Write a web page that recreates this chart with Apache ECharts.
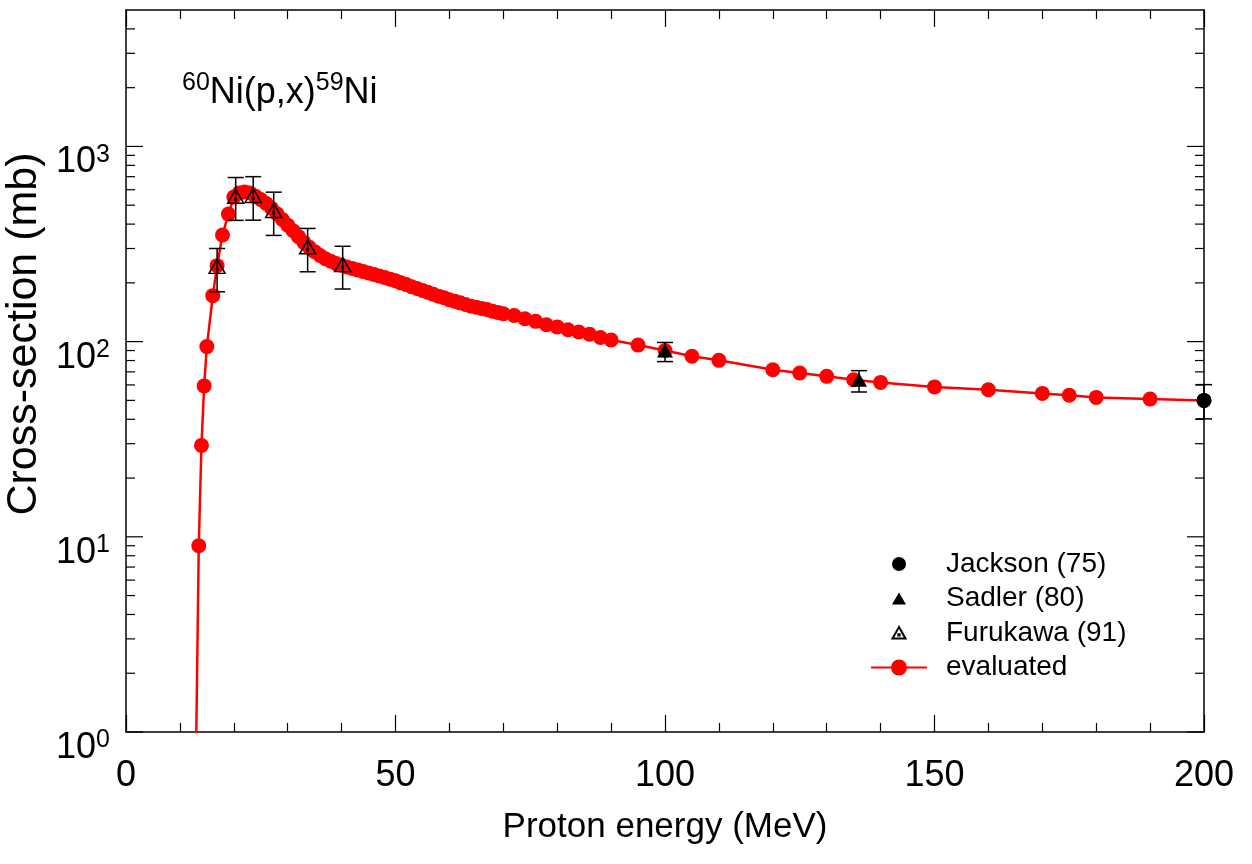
<!DOCTYPE html>
<html>
<head>
<meta charset="utf-8">
<script src="https://cdn.jsdelivr.net/npm/echarts@6/dist/echarts.min.js"></script>
<style>
html,body{margin:0;padding:0;background:#fff;}
#chart{width:1252px;height:864px;}
</style>
</head>
<body>
<div id="chart"></div>
<script>
// ---- data ----
const evalEnergy = [12.8, 13.5, 14, 14.5, 15, 16.1, 16.9, 17.9, 19, 20, 21, 22, 23, 24, 25, 26, 27, 28, 29, 30,
  31, 32, 33, 34, 35, 36, 37, 38, 39, 40, 41, 42, 43, 44, 45, 46, 47, 48, 49, 50,
  51, 52, 53, 54, 55, 56, 57, 58, 59, 60, 61, 62, 63, 64, 65, 66, 67, 68, 69, 70,
  72, 74, 76, 78, 80, 82, 84, 86, 88, 90, 95, 100, 105, 110, 120, 125, 130, 135, 140,
  150, 160, 170, 175, 180, 190, 200];
const evalXS = [0.3, 9.0, 29.4, 59.3, 94.3, 172, 245, 352, 450, 550, 578, 585, 578, 555, 535, 510, 482, 452, 422, 395,
  370, 345, 322, 304, 289, 276, 266, 258, 251, 246, 241, 237, 233, 229, 225, 221, 217, 213, 209, 205,
  200, 196, 191, 187, 183, 179, 175, 171, 168, 164, 161, 158, 155, 152, 150, 148, 146, 143, 141, 139,
  136, 131, 127, 122, 119, 115, 112, 109, 105, 102, 96, 90, 84.1, 80.2, 71.8, 69.1, 66.4, 63.8, 61.8,
  58.6, 56.7, 54.3, 53.1, 51.8, 50.8, 50];

const jacksonE = [200];
const jacksonXS = [50];
const jacksonLo = [40.2];
const jacksonHi = [60.2];

const sadlerE = [100, 136];
const sadlerXS = [90, 63.8];
const sadlerLo = [79, 55.2];
const sadlerHi = [99, 71];

const furukawaE = [16.9, 20.35, 23.6, 27.4, 33.7, 40.2];
const furukawaXS = [243, 556, 561, 470, 306, 248];
const furukawaLo = [180, 418, 419, 350, 228, 186];
const furukawaHi = [300, 693, 700, 583, 380, 308];

const xTickLabels = ['0', '50', '100', '150', '200'];
const seriesNames = ['Jackson (75)', 'Sadler (80)', 'Furukawa (91)', 'evaluated'];

// ---- build ----
const FONT = "'Liberation Sans', Arial, sans-serif";
const X_MIN = 0, X_MAX = 200, Y_MIN = 1, Y_MAX = 5000;

const zip = (a, b) => a.map((v, i) => [v, b[i]]);
const zip3 = (a, b, c) => a.map((v, i) => [v, b[i], c[i]]);

// y tick marks (log decades with minor ticks)
const yTicks = [];
for (let d = 1; d < Y_MAX; d *= 10) {
  for (let m = 1; m <= 9; m++) {
    const v = d * m;
    if (v >= Y_MAX) break;
    yTicks.push([X_MIN, v, m === 1 ? 1 : 0]);
  }
}

function errRender(params, api) {
  const x = api.value(0), lo = api.value(1), hi = api.value(2);
  const a = api.coord([x, lo]);
  const b = api.coord([x, hi]);
  const w = 8;
  const st = { stroke: '#000', lineWidth: 1.5 };
  return {
    type: 'group',
    children: [
      { type: 'line', shape: { x1: a[0], y1: a[1], x2: b[0], y2: b[1] }, style: st },
      { type: 'line', shape: { x1: a[0] - w, y1: a[1], x2: a[0] + w, y2: a[1] }, style: st },
      { type: 'line', shape: { x1: b[0] - w, y1: b[1], x2: b[0] + w, y2: b[1] }, style: st }
    ]
  };
}

function tickRender(params, api) {
  const v = api.value(1);
  const major = api.value(2);
  const pL = api.coord([X_MIN, v]);
  const pR = api.coord([X_MAX, v]);
  const len = major ? 17 : 9;
  const st = { stroke: '#000', lineWidth: 1.2 };
  return {
    type: 'group',
    children: [
      { type: 'line', shape: { x1: pL[0], y1: pL[1], x2: pL[0] + len, y2: pL[1] }, style: st },
      { type: 'line', shape: { x1: pR[0] - len, y1: pR[1], x2: pR[0], y2: pR[1] }, style: st }
    ]
  };
}

const furukawaSymbol = 'path://M0,-6 L7,6 L-7,6 Z M-0.6,1.6 L0.6,1.6 L0.6,2.8 L-0.6,2.8 Z';

const axisLineStyle = { color: '#000', width: 1.5 };

const option = {
  animation: false,
  backgroundColor: '#fff',
  textStyle: { fontFamily: FONT },
  title: {
    text: '{s|60}{m|Ni(p,x)}{s|59}{m|Ni}',
    left: 177,
    top: 66,
    textStyle: {
      fontWeight: 'normal',
      rich: {
        s: { fontSize: 25, fontFamily: FONT, fontWeight: 'normal', color: '#000', verticalAlign: 'top', lineHeight: 40 },
        m: { fontSize: 36, fontFamily: FONT, fontWeight: 'normal', color: '#000', verticalAlign: 'bottom', lineHeight: 40 }
      }
    }
  },
  grid: { left: 126, right: 48, top: 10, bottom: 132, containLabel: false, outerBoundsMode: 'none' },
  legend: {
    orient: 'vertical',
    left: 865,
    top: 545,
    itemWidth: 56,
    itemHeight: 20,
    itemGap: 6.5,
    textStyle: { fontSize: 28, fontFamily: FONT, color: '#000', padding: [0, 0, 0, 14], lineHeight: 28 },
    data: [
      { name: seriesNames[0], icon: 'path://M-10,-10 M10,10 M-7,0 A7,7 0 1 0 7,0 A7,7 0 1 0 -7,0 Z' },
      { name: seriesNames[1], icon: 'path://M-10,-10 M10,10 M0,-6 L7,6 L-7,6 Z' },
      { name: seriesNames[2], icon: 'path://M-10,-10 M10,10 M0,-6 L6.5,5.5 L-6.5,5.5 Z M-0.7,1.2 L0.7,1.2 L0.7,2.6 L-0.7,2.6 Z' },
      { name: seriesNames[3] }
    ]
  },
  xAxis: [
    {
      type: 'value', min: X_MIN, max: X_MAX, interval: 50, position: 'bottom',
      name: 'Proton energy (MeV)', nameLocation: 'middle', nameGap: 78,
      nameTextStyle: { fontSize: 35, fontFamily: FONT, color: '#000' },
      axisLine: { show: true, onZero: false, lineStyle: axisLineStyle },
      axisTick: { show: true, inside: true, length: 17, lineStyle: { color: '#000', width: 1.2 } },
      minorTick: { show: true, splitNumber: 5, length: 9, lineStyle: { color: '#000', width: 1.2 } },
      axisLabel: { fontSize: 36, color: '#000', margin: 26, fontFamily: FONT,
        formatter: (v) => xTickLabels[Math.round(v / 50)] },
      splitLine: { show: false }
    },
    {
      type: 'value', min: X_MIN, max: X_MAX, interval: 50, position: 'top',
      axisLine: { show: true, onZero: false, lineStyle: axisLineStyle },
      axisTick: { show: true, inside: true, length: 17, lineStyle: { color: '#000', width: 1.2 } },
      minorTick: { show: true, splitNumber: 5, length: 9, lineStyle: { color: '#000', width: 1.2 } },
      axisLabel: { show: false },
      splitLine: { show: false }
    }
  ],
  yAxis: [
    {
      type: 'log', logBase: 10, min: Y_MIN, max: Y_MAX, position: 'left',
      name: 'Cross-section (mb)', nameLocation: 'middle', nameGap: 72, nameRotate: 90,
      nameTextStyle: { fontSize: 43, fontFamily: FONT, color: '#000', padding: [0, 0, 0, 74] },
      axisLine: { show: true, onZero: false, lineStyle: axisLineStyle },
      axisTick: { show: false },
      minorTick: { show: false },
      splitLine: { show: false },
      axisLabel: {
        margin: 16, showMaxLabel: false,
        padding: [30, 0, 0, 0],
        formatter: function (v) {
          const e = Math.round(Math.log10(v));
          if (Math.abs(v / Math.pow(10, e) - 1) > 1e-6) return '';
          return '{b|10}{s|' + e + '}';
        },
        rich: {
          b: { fontSize: 36, fontFamily: FONT, color: '#000', verticalAlign: 'bottom', lineHeight: 38 },
          s: { fontSize: 25, fontFamily: FONT, color: '#000', verticalAlign: 'top', lineHeight: 38 }
        }
      }
    },
    {
      type: 'log', logBase: 10, min: Y_MIN, max: Y_MAX, position: 'right',
      axisLine: { show: true, onZero: false, lineStyle: axisLineStyle },
      axisTick: { show: false }, axisLabel: { show: false }, splitLine: { show: false }
    }
  ],
  series: [
    {
      type: 'custom', name: 'yticks', renderItem: tickRender, data: yTicks,
      encode: { x: 0, y: 1 }, clip: false, silent: true, z: 1
    },
    {
      type: 'line', name: seriesNames[3], data: zip(evalEnergy, evalXS),
      symbol: 'circle', symbolSize: 15, clip: true, z: 3,
      itemStyle: { color: '#ff0000', opacity: 1 },
      lineStyle: { color: '#ff0000', width: 2.5 }
    },
    {
      type: 'custom', name: 'errJ', renderItem: errRender, data: zip3(jacksonE, jacksonLo, jacksonHi),
      encode: { x: 0, y: [1, 2] }, clip: false, silent: true, z: 5
    },
    {
      type: 'custom', name: 'errS', renderItem: errRender, data: zip3(sadlerE, sadlerLo, sadlerHi),
      encode: { x: 0, y: [1, 2] }, clip: false, silent: true, z: 5
    },
    {
      type: 'custom', name: 'errF', renderItem: errRender, data: zip3(furukawaE, furukawaLo, furukawaHi),
      encode: { x: 0, y: [1, 2] }, clip: false, silent: true, z: 5
    },
    {
      type: 'scatter', name: seriesNames[0], data: zip(jacksonE, jacksonXS),
      symbol: 'circle', symbolSize: 15, clip: false, z: 6,
      itemStyle: { color: '#000', opacity: 1 }
    },
    {
      type: 'scatter', name: seriesNames[1], data: zip(sadlerE, sadlerXS),
      symbol: 'triangle', symbolSize: [16, 14], clip: false, z: 6,
      itemStyle: { color: '#000', opacity: 1 }
    },
    {
      type: 'scatter', name: seriesNames[2], data: zip(furukawaE, furukawaXS),
      symbol: furukawaSymbol, symbolSize: [16, 14], symbolKeepAspect: false, clip: false, z: 6,
      itemStyle: { color: 'rgba(0,0,0,0)', borderColor: '#000', borderWidth: 1.5, opacity: 1 }
    }
  ]
};

const chart = echarts.init(document.getElementById('chart'), null, { renderer: 'canvas' });
chart.setOption(option);
</script>
</body>
</html>
